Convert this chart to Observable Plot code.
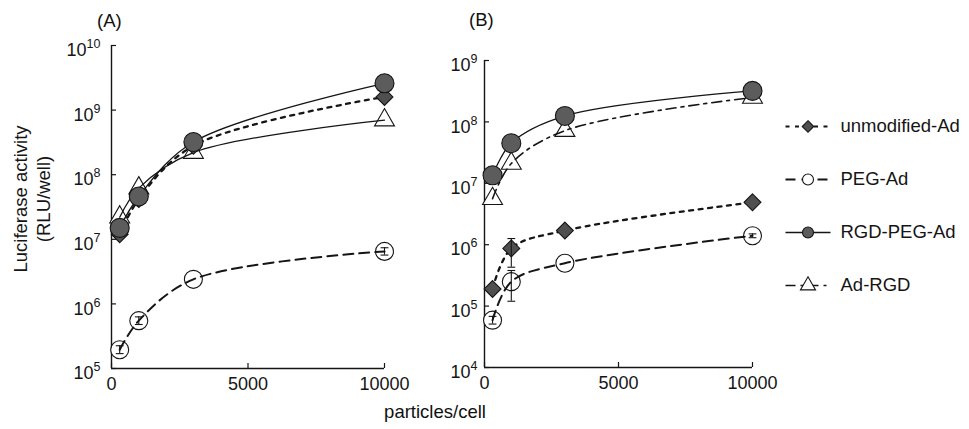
<!DOCTYPE html>
<html><head><meta charset="utf-8">
<script src="https://cdn.jsdelivr.net/npm/d3@7"></script>
<script src="https://cdn.jsdelivr.net/npm/@observablehq/plot@0.6"></script>
<style>
body{margin:0;background:#fff;}
#wrap{position:relative;width:969px;height:429px;overflow:hidden;font-family:"Liberation Sans",Arial,Helvetica,sans-serif;color:#111;background:#fff;}
#wrap svg{position:absolute;overflow:visible;}
.lbl{position:absolute;font-size:18.5px;line-height:18.5px;white-space:nowrap;color:#111;}
</style></head><body><div id="wrap"></div>
<script>
// ---------- data ----------
const doses = [300, 1000, 3000, 10000];
const seriesNames = ["unmodified-Ad", "PEG-Ad", "RGD-PEG-Ad", "Ad-RGD"];
const xTicks = [0, 5000, 10000];

// Panel (A)
const A_unmodified = [1.2e7, 4.2e7, 2.8e8, 1.6e9];
const A_peg        = [1.95e5, 5.5e5, 2.4e6, 6.5e6];
const A_rgdPeg     = [1.5e7, 4.6e7, 3.2e8, 2.6e9];
const A_adRgd      = [2.2e7, 6.2e7, 2.2e8, 7.0e8];
const A_pegErr     = [[1.7e5, 2.25e5], [4.8e5, 6.3e5], null, [5.7e6, 7.4e6]];
const A_yDomain    = [1e5, 1e10];

// Panel (B)
const B_unmodified = [1.9e5, 8.7e5, 1.7e6, 4.9e6];
const B_peg        = [5.9e4, 2.5e5, 5.0e5, 1.4e6];
const B_rgdPeg     = [1.35e7, 4.5e7, 1.25e8, 3.2e8];
const B_adRgd      = [5.6e6, 2.1e7, 7.2e7, 2.5e8];
const B_unmodErr   = [null, [4.3e5, 1.26e6], null, null];
const B_pegErr     = [[5.1e4, 6.8e4], [1.2e5, 3.8e5], null, [1.3e6, 1.5e6]];
const B_yDomain    = [1e4, 1e9];

// ---------- styles ----------
const INK = "#151515";
const styles = {
  "unmodified-Ad": {dash: "4,5.5", width: 2.3, symbol: "diamond2", fill: "#4f4f4f", r: 7.6, lr: 5.2, open: false},
  "PEG-Ad":        {dash: "10,6", width: 2.0, symbol: "circle", fill: "white", r: 9, lr: 5.5, open: true},
  "RGD-PEG-Ad":    {dash: null, width: 1.3, symbol: "circle", fill: "#5c5c5c", r: 9.5, lr: 5.5, open: false},
  "Ad-RGD":        {dash: "10,5,3,5", width: 1.6, symbol: "triangle", fill: "white", r: 7.4, lr: 5.6, open: true}
};

function rows(series, values) {
  return values.map((v, i) => ({series, dose: doses[i], value: v}));
}
function errRows(errs) {
  return errs.map((e, i) => e ? {dose: doses[i], lo: e[0], hi: e[1]} : null).filter(Boolean);
}
const capSymbol = {draw(ctx, size) { const w = Math.sqrt(size); ctx.moveTo(-w, 0); ctx.lineTo(w, 0); }};

const W = 969, H = 429;
const wrap = document.getElementById("wrap");

function supify(svg) {
  svg.querySelectorAll('g[aria-label="y-axis tick label"] text').forEach(t => {
    const s = t.textContent;
    const m = s.match(/^10\^(-?\d+)$/);
    if (!m) return;
    t.textContent = "10";
    const ts = document.createElementNS("http://www.w3.org/2000/svg", "tspan");
    ts.setAttribute("dy", "-8");
    ts.setAttribute("font-size", "12.5");
    ts.textContent = m[1];
    t.appendChild(ts);
  });
}

function panel({series, errs, yDomain, left, right, top, bottom, tickPad, lineOverride}) {
  const frameW = right - left, frameH = bottom - top;
  const e0 = Math.round(Math.log10(yDomain[0])), e1 = Math.round(Math.log10(yDomain[1]));
  const yTicks = d3.range(e0, e1 + 1).map(e => 10 ** e);
  const marks = [];
  marks.push(Plot.ruleX([0], {stroke: INK, strokeWidth: 1.4}));
  marks.push(Plot.ruleY([yDomain[0]], {stroke: INK, strokeWidth: 1.4}));
  marks.push(Plot.tickY(yTicks, {y: d => d, insetRight: frameW - 5, stroke: INK, strokeWidth: 1.2}));
  marks.push(Plot.tickX(xTicks, {x: d => d, insetTop: frameH - 5, stroke: INK, strokeWidth: 1.2}));
  marks.push(Plot.axisY({ticks: yTicks, tickSize: 0, tickPadding: tickPad, dy: 5, fill: INK,
    tickFormat: d => "10^" + Math.round(Math.log10(d))}));
  marks.push(Plot.axisX({ticks: xTicks, tickSize: 0, tickPadding: 9, fill: INK, tickFormat: d => String(d)}));
  const dotMark = (name) => {
    const entry = series.find(s => s[0] === name);
    const st = styles[name];
    return Plot.dot(entry[1], {x: "dose", y: "value", symbol: st.symbol, r: st.r,
      fill: st.fill, stroke: INK, strokeWidth: 1.1});
  };
  // open markers first (lines pass over them, as in the scan)
  for (const name of ["PEG-Ad", "Ad-RGD"]) marks.push(dotMark(name));
  for (const [name, data] of series) {
    const st = Object.assign({}, styles[name], (lineOverride && lineOverride[name]) || {});
    marks.push(Plot.line(data, {x: "dose", y: "value", curve: "catmull-rom", stroke: INK,
      strokeWidth: st.width, strokeDasharray: st.dash || undefined}));
  }
  // filled markers on top
  for (const name of ["unmodified-Ad", "RGD-PEG-Ad"]) marks.push(dotMark(name));
  for (const e of errs) {
    const er = errRows(e);
    marks.push(Plot.ruleX(er, {x: "dose", y1: "lo", y2: "hi", stroke: INK, strokeWidth: 1.1}));
    marks.push(Plot.dot(er, {x: "dose", y: "lo", symbol: capSymbol, r: 2.2, stroke: INK, fill: "none", strokeWidth: 1.1}));
    marks.push(Plot.dot(er, {x: "dose", y: "hi", symbol: capSymbol, r: 2.2, stroke: INK, fill: "none", strokeWidth: 1.1}));
  }
  const svg = Plot.plot({
    width: W, height: H,
    marginLeft: left, marginRight: W - right, marginTop: top, marginBottom: H - bottom,
    x: {domain: [0, 10000], label: null},
    y: {type: "log", domain: yDomain, label: null},
    style: {fontFamily: '"Liberation Sans", Arial, Helvetica, sans-serif', fontSize: "18px", background: "transparent", overflow: "visible", color: INK},
    marks
  });
  supify(svg);
  svg.style.left = "0px"; svg.style.top = "0px";
  return svg;
}

const svgA = panel({
  series: [["unmodified-Ad", rows("unmodified-Ad", A_unmodified)], ["PEG-Ad", rows("PEG-Ad", A_peg)],
           ["RGD-PEG-Ad", rows("RGD-PEG-Ad", A_rgdPeg)], ["Ad-RGD", rows("Ad-RGD", A_adRgd)]],
  errs: [A_pegErr], yDomain: A_yDomain, left: 111, right: 384, top: 45, bottom: 368, tickPad: 11,
  lineOverride: {"Ad-RGD": {dash: null, width: 1.3}}
});
const svgB = panel({
  series: [["unmodified-Ad", rows("unmodified-Ad", B_unmodified)], ["PEG-Ad", rows("PEG-Ad", B_peg)],
           ["RGD-PEG-Ad", rows("RGD-PEG-Ad", B_rgdPeg)], ["Ad-RGD", rows("Ad-RGD", B_adRgd)]],
  errs: [B_unmodErr, B_pegErr], yDomain: B_yDomain, left: 484, right: 752, top: 60, bottom: 367, tickPad: 7
});
wrap.appendChild(svgA);
wrap.appendChild(svgB);

// ---------- legend ----------
const legMarks = [];
for (const name of seriesNames) {
  const st = styles[name];
  legMarks.push(Plot.link([name], {x1: 0, x2: 1, y1: d => d, y2: d => d, stroke: INK,
    strokeWidth: Math.min(st.width, 1.8), strokeDasharray: st.dash || undefined}));
  legMarks.push(Plot.dot([name], {x: 0.5, y: d => d, symbol: st.symbol, r: st.lr, fill: st.fill, stroke: INK, strokeWidth: 1.1}));
}
legMarks.push(Plot.text(seriesNames, {x: 1, y: d => d, dx: 10, text: d => d, textAnchor: "start", fill: INK, fontSize: 18.5}));
const legend = Plot.plot({
  width: 199, height: 220, marginLeft: 15, marginRight: 139, marginTop: 25, marginBottom: 35,
  x: {domain: [0, 1], axis: null},
  y: {type: "point", domain: seriesNames, padding: 0, axis: null},
  style: {fontFamily: '"Liberation Sans", Arial, Helvetica, sans-serif', fontSize: "18px", background: "transparent", overflow: "visible", color: INK},
  marks: legMarks
});
legend.style.left = "770px"; legend.style.top = "100px";
wrap.appendChild(legend);

// ---------- text labels ----------
function addLabel(text, css) {
  const d = document.createElement("div");
  d.className = "lbl";
  d.textContent = text;
  Object.assign(d.style, css);
  wrap.appendChild(d);
  return d;
}
addLabel("(A)", {left: "97px", top: "12px"});
addLabel("(B)", {left: "469px", top: "11px"});
addLabel("particles/cell", {left: "435px", top: "403px", transform: "translateX(-50%)"});

const ns = "http://www.w3.org/2000/svg";
const ylab = document.createElementNS(ns, "svg");
ylab.setAttribute("width", "70"); ylab.setAttribute("height", "429");
ylab.style.left = "0px"; ylab.style.top = "0px";
[["Luciferase activity", 27], ["(RLU/well)", 50]].forEach(([t, x]) => {
  const el = document.createElementNS(ns, "text");
  el.setAttribute("transform", `translate(${x},199) rotate(-90)`);
  el.setAttribute("text-anchor", "middle");
  el.setAttribute("font-family", '"Liberation Sans", Arial, Helvetica, sans-serif');
  el.setAttribute("font-size", "18.5");
  el.setAttribute("fill", INK);
  el.textContent = t;
  ylab.appendChild(el);
});
wrap.appendChild(ylab);
</script></body></html>
